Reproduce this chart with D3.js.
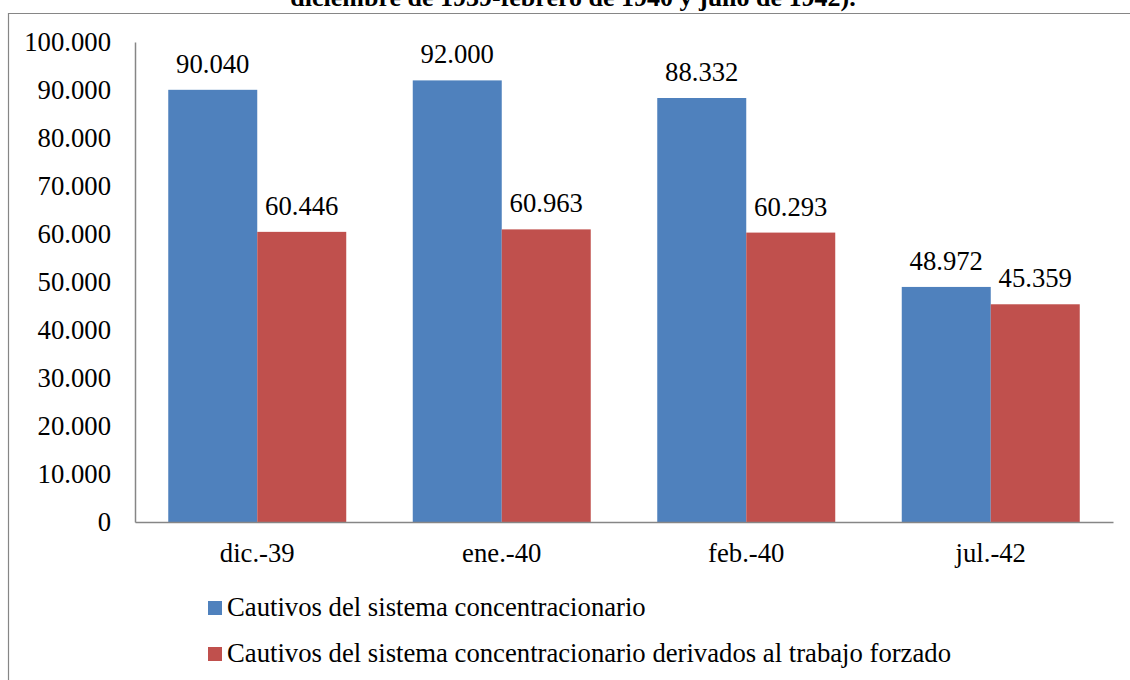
<!DOCTYPE html>
<html>
<head>
<meta charset="utf-8">
<script src="https://cdn.jsdelivr.net/npm/d3@7"></script>
<style>
  html, body { margin: 0; padding: 0; background: #fff; }
  svg { display: block; }
  text { font-family: "Liberation Serif", "Times New Roman", serif; fill: #000; }
  .title { font-weight: bold; }
</style>
</head>
<body>
<svg id="chart" width="1130" height="680"></svg>
<script>
// Chart data
const categories = ["dic.-39", "ene.-40", "feb.-40", "jul.-42"];
const seriesNames = [
  "Cautivos del sistema concentracionario",
  "Cautivos del sistema concentracionario derivados al trabajo forzado"
];
const cautivos = [90040, 92000, 88332, 48972];
const trabajoForzado = [60446, 60963, 60293, 45359];
const yTicks = [0, 10000, 20000, 30000, 40000, 50000, 60000, 70000, 80000, 90000, 100000];
const titleText = "diciembre de 1939-febrero de 1940 y julio de 1942).";

const colors = ["#4F81BD", "#C0504D"];
const series = [cautivos, trabajoForzado];
const FS = 26.7;

const svg = d3.select("#chart");
const fmt = v => d3.format(",")(v).replace(/,/g, ".");

// Outer frame (left and top edges)
svg.append("path")
  .attr("d", "M8.5,680 L8.5,13.5 L1130,13.5")
  .attr("fill", "none")
  .attr("stroke", "#868686")
  .attr("stroke-width", 1.2);

// Title (upper part runs past the page edge)
svg.append("text")
  .attr("class", "title")
  .attr("x", 573).attr("y", 6)
  .attr("text-anchor", "middle")
  .attr("font-size", 26)
  .text(titleText);

const plot = { left: 135, right: 1113, top: 42, bottom: 522 };

const x0 = d3.scaleBand().domain(categories).range([plot.left, plot.right]).padding(0);
const y = d3.scaleLinear().domain([0, 100000]).range([plot.bottom, plot.top]);
const barW = x0.bandwidth() * 0.364;

// Y axis
const yAxis = svg.append("g")
  .attr("transform", `translate(${plot.left},0)`)
  .call(d3.axisLeft(y).tickValues(yTicks).tickSize(0).tickPadding(24).tickFormat(fmt));
yAxis.attr("font-family", null).attr("font-size", null);
yAxis.select(".domain").attr("stroke", "#868686").attr("stroke-width", 1.5);
yAxis.selectAll("text").attr("font-size", FS).attr("fill", "#000");

// Bars with value labels
categories.forEach((c, i) => {
  const cx = x0(c) + x0.bandwidth() / 2;
  series.forEach((s, k) => {
    const bx = cx - barW + k * barW;
    svg.append("rect")
      .attr("x", bx).attr("y", y(s[i]))
      .attr("width", barW).attr("height", y(0) - y(s[i]))
      .attr("fill", colors[k]);
    svg.append("text")
      .attr("x", bx + barW / 2).attr("y", y(s[i]) - 17)
      .attr("text-anchor", "middle")
      .attr("font-size", FS)
      .text(fmt(s[i]));
  });
});

// X axis
const xAxis = svg.append("g")
  .attr("transform", `translate(0,${plot.bottom})`)
  .call(d3.axisBottom(x0).tickSize(0).tickPadding(21));
xAxis.attr("font-family", null).attr("font-size", null);
xAxis.select(".domain").attr("stroke", "#868686").attr("stroke-width", 1.5);
xAxis.selectAll("text").attr("font-size", FS).attr("fill", "#000");

// Legend
const legend = svg.append("g");
seriesNames.forEach((name, k) => {
  const rowY = 608 + k * 46;
  legend.append("rect")
    .attr("x", 208).attr("y", rowY - 7)
    .attr("width", 14).attr("height", 14)
    .attr("fill", colors[k]);
  legend.append("text")
    .attr("x", 227).attr("y", rowY + 8)
    .attr("font-size", FS)
    .text(name);
});
</script>
</body>
</html>
